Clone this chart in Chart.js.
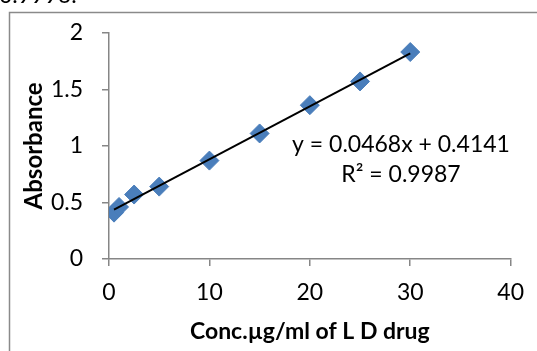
<!DOCTYPE html>
<html>
<head>
<meta charset="utf-8">
<script src="https://cdn.jsdelivr.net/npm/chart.js@4.4.0/dist/chart.umd.min.js"></script>
<style>
  html, body { margin: 0; padding: 0; background: #fff; }
  #wrap { width: 537px; height: 351px; position: relative; }
</style>
</head>
<body>
<div id="wrap"><canvas id="grafico" width="537" height="351"></canvas></div>
<script>
// dados
var concentracao = [0.5, 1, 2.5, 5, 10, 15, 20, 25, 30];
var absorbancia = [0.41, 0.46, 0.57, 0.64, 0.87, 1.11, 1.36, 1.57, 1.83];
var inclinacao = 0.0468;
var intercepto = 0.4141;
var r2 = 0.9987;
var ticksX = [0, 10, 20, 30, 40];
var ticksY = [0, 0.5, 1, 1.5, 2];

var fonte = 'Lato, "Open Sans", sans-serif';
var tamanho = 23;
var cinza = '#868686';

// linha de tendencia (extremos da serie)
var xMin = Math.min.apply(null, concentracao);
var xMax = Math.max.apply(null, concentracao);
var tendencia = [
  { x: xMin, y: inclinacao * xMin + intercepto },
  { x: xMax, y: inclinacao * xMax + intercepto }
];

var pontos = concentracao.map(function(c, i) { return { x: c, y: absorbancia[i] }; });

var moldura = {
  id: 'moldura',
  beforeDraw: function(chart) {
    var ctx = chart.ctx;
    ctx.save();
    ctx.fillStyle = '#fff';
    ctx.fillRect(0, 0, chart.width, chart.height);
    ctx.strokeStyle = '#8a8a8a';
    ctx.lineWidth = 1.5;
    ctx.beginPath();
    ctx.moveTo(9.5, chart.height + 5);
    ctx.lineTo(9.5, 12.5);
    ctx.lineTo(chart.width + 5, 12.5);
    ctx.stroke();
    // resto da linha de texto acima do grafico
    ctx.fillStyle = '#000';
    ctx.font = tamanho + 'px ' + fonte;
    ctx.textBaseline = 'alphabetic';
    ctx.fillText('0.9996.', -1, 3);
    ctx.restore();
  },
  afterDraw: function(chart) {
    var ctx = chart.ctx;
    ctx.save();
    ctx.fillStyle = '#000';
    ctx.font = tamanho + 'px ' + fonte;
    ctx.textAlign = 'center';
    ctx.textBaseline = 'middle';
    ctx.fillText('y = ' + inclinacao + 'x + ' + intercepto, 401, 145);
    ctx.fillText('R² = ' + r2, 401, 175);
    ctx.restore();
  }
};

var ctx = document.getElementById('grafico').getContext('2d');
new Chart(ctx, {
  type: 'scatter',
  data: {
    datasets: [
      {
        data: pontos,
        pointStyle: 'rectRot',
        pointRadius: 9.5,
        pointHoverRadius: 9.5,
        backgroundColor: '#4a7ebb',
        borderColor: '#4a7ebb',
        borderWidth: 1,
        order: 2
      },
      {
        type: 'line',
        data: tendencia,
        borderColor: '#000',
        borderWidth: 2,
        pointRadius: 0,
        fill: false,
        order: 1
      }
    ]
  },
  options: {
    responsive: false,
    animation: false,
    events: [],
    layout: { padding: { left: 9, top: 27, right: 26, bottom: 0 } },
    plugins: { legend: { display: false }, tooltip: { enabled: false } },
    scales: {
      x: {
        type: 'linear',
        min: 0,
        max: 40,
        afterBuildTicks: function(s) { s.ticks = ticksX.map(function(v) { return { value: v }; }); },
        afterFit: function(s) { s.height = 92; },
        grid: { display: true, drawOnChartArea: false, drawTicks: true, tickLength: 7, color: cinza, lineWidth: 1.5 },
        border: { display: true, color: cinza, width: 1.5 },
        ticks: { color: '#000', padding: 13, font: { family: fonte, size: tamanho } },
        title: {
          display: true,
          text: 'Conc.µg/ml of L D drug',
          color: '#000',
          padding: { top: 0, bottom: 6 },
          font: { family: fonte, size: tamanho, weight: 'bold' }
        }
      },
      y: {
        min: 0,
        max: 2,
        afterBuildTicks: function(s) { s.ticks = ticksY.map(function(v) { return { value: v }; }); },
        afterFit: function(s) { s.width = 100; },
        grid: { display: true, drawOnChartArea: false, drawTicks: true, tickLength: 7, color: cinza, lineWidth: 1.5 },
        border: { display: true, color: cinza, width: 1.5 },
        ticks: {
          color: '#000',
          padding: 19,
          font: { family: fonte, size: tamanho },
          callback: function(v) { return String(v); }
        },
        title: {
          display: true,
          text: 'Absorbance',
          color: '#000',
          padding: { top: 11, bottom: 0 },
          font: { family: fonte, size: tamanho + 1, weight: 'bold' }
        }
      }
    }
  },
  plugins: [moldura]
});
</script>
</body>
</html>
